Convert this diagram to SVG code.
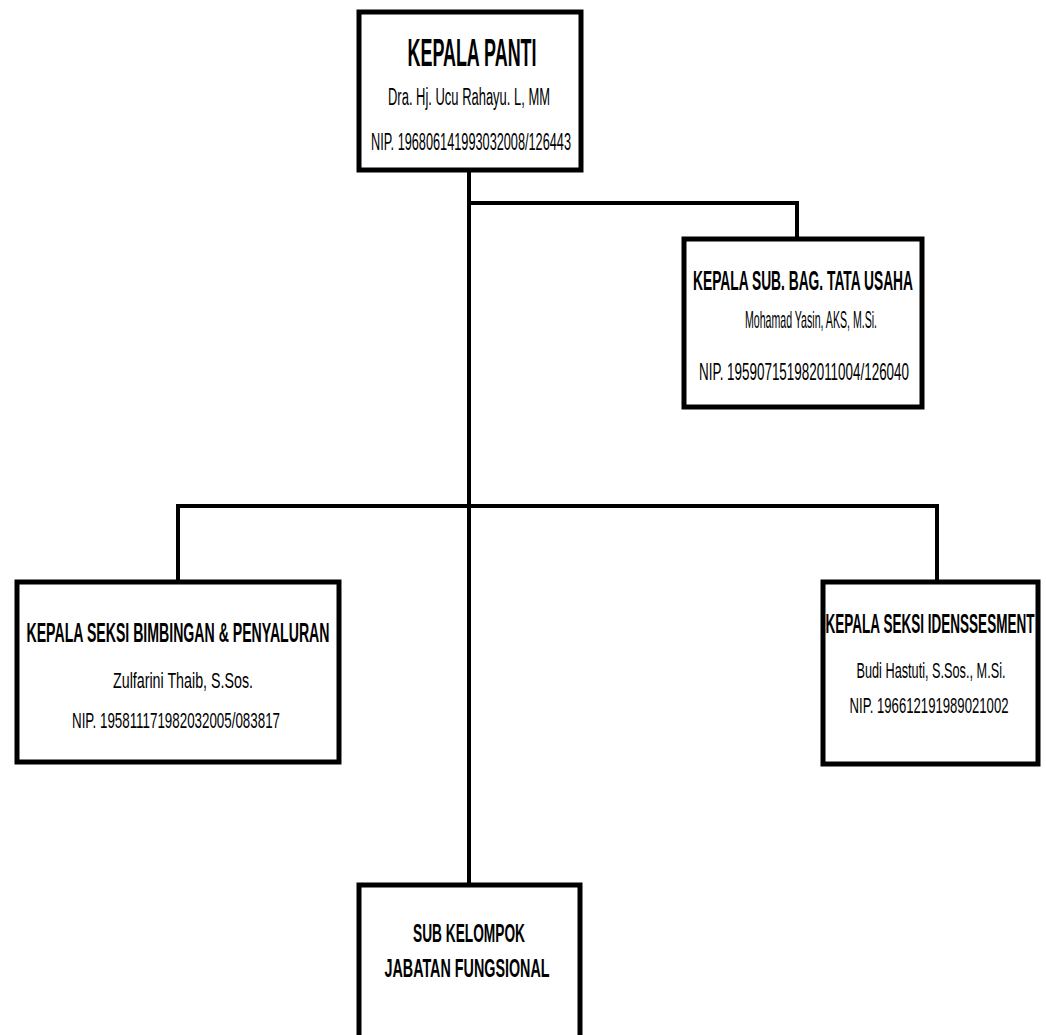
<svg xmlns="http://www.w3.org/2000/svg" width="1046" height="1035" viewBox="0 0 1046 1035">
<style>
.box{fill:#fff;stroke:#000;stroke-width:5}
.ln{fill:none;stroke:#000;stroke-width:4;stroke-linecap:square}
text{font-family:"Liberation Sans Narrow","Liberation Sans",Arial,sans-serif;fill:#000;text-anchor:middle}
.b{font-weight:bold}
</style>
<rect width="1046" height="1035" fill="#fff"/>
<g id="connectors">
<path class="ln" d="M469,170 V884"/>
<path class="ln" d="M469,203 H797 V238"/>
<path class="ln" d="M178,506 H937 V580"/>
<path class="ln" d="M178,506 V580"/>
</g>
<g id="kepala-panti">
<rect class="box" x="359" y="12" width="222" height="158"/>
<text class="b" x="472" y="66" font-size="38" textLength="129" lengthAdjust="spacingAndGlyphs">KEPALA PANTI</text>
<text x="469" y="105" font-size="23" textLength="162" lengthAdjust="spacingAndGlyphs">Dra. Hj. Ucu Rahayu. L, MM</text>
<text x="471" y="150" font-size="24" textLength="200" lengthAdjust="spacingAndGlyphs">NIP. 196806141993032008/126443</text>
</g>
<g id="tata-usaha">
<rect class="box" x="684" y="239" width="238" height="168"/>
<text class="b" x="803" y="290" font-size="27" textLength="220" lengthAdjust="spacingAndGlyphs">KEPALA SUB. BAG. TATA USAHA</text>
<text x="811" y="328" font-size="24" textLength="132" lengthAdjust="spacingAndGlyphs">Mohamad Yasin, AKS, M.Si.</text>
<text x="804" y="380" font-size="24" textLength="210" lengthAdjust="spacingAndGlyphs">NIP. 195907151982011004/126040</text>
</g>
<g id="bimbingan">
<rect class="box" x="17" y="582" width="322" height="180"/>
<text class="b" x="178" y="642" font-size="27" textLength="303" lengthAdjust="spacingAndGlyphs">KEPALA SEKSI BIMBINGAN &amp; PENYALURAN</text>
<text x="183" y="688" font-size="22" textLength="140" lengthAdjust="spacingAndGlyphs">Zulfarini Thaib, S.Sos.</text>
<text x="176" y="728" font-size="22" textLength="208" lengthAdjust="spacingAndGlyphs">NIP. 195811171982032005/083817</text>
</g>
<g id="idenssesment">
<rect class="box" x="823" y="582" width="215" height="182"/>
<text class="b" x="930" y="633" font-size="27" textLength="209" lengthAdjust="spacingAndGlyphs">KEPALA SEKSI IDENSSESMENT</text>
<text x="931" y="678" font-size="22" textLength="149" lengthAdjust="spacingAndGlyphs">Budi Hastuti, S.Sos., M.Si.</text>
<text x="929" y="713" font-size="22" textLength="159" lengthAdjust="spacingAndGlyphs">NIP. 196612191989021002</text>
</g>
<g id="fungsional">
<rect class="box" x="359" y="885" width="221" height="170"/>
<text class="b" x="469" y="942" font-size="26" textLength="112" lengthAdjust="spacingAndGlyphs">SUB KELOMPOK</text>
<text class="b" x="467" y="977" font-size="26" textLength="165" lengthAdjust="spacingAndGlyphs">JABATAN FUNGSIONAL</text>
</g>
</svg>
